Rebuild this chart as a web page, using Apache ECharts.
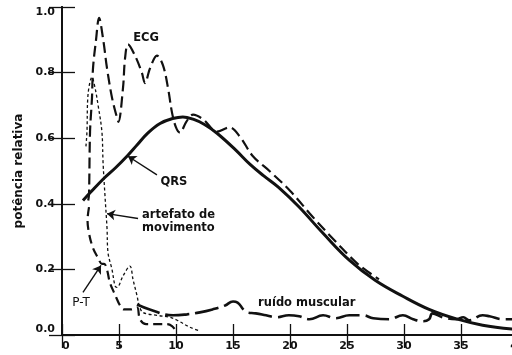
<!DOCTYPE html>
<html>
<head>
<meta charset="utf-8">
<script src="https://cdn.jsdelivr.net/npm/echarts@6/dist/echarts.min.js"></script>
<style>
  html, body { margin: 0; padding: 0; background: #fff; }
  #chart { width: 512px; height: 355px; }
</style>
</head>
<body>
<div id="chart"></div>
<script>
// Power spectra: frequency (Hz) against relative power
const qrsHz  = [1.84, 2.5, 3.6, 4.7, 5.7, 6.6, 7.5, 8.6, 9.7, 10.6, 11.5, 12.5, 13.6, 15.2, 16.5, 17.7, 19, 20.8, 22.9, 25.2, 27.5, 29.9, 32.2, 34.6, 36.9, 39.5];
const qrsPow = [0.41, 0.435, 0.475, 0.51, 0.545, 0.58, 0.615, 0.645, 0.66, 0.665, 0.658, 0.642, 0.615, 0.565, 0.52, 0.485, 0.45, 0.39, 0.31, 0.228, 0.166, 0.118, 0.078, 0.049, 0.03, 0.018];

const ecgHz  = [2.3, 2.37, 2.46, 2.63, 2.72, 2.98, 3.25, 3.6, 3.95, 4.39, 4.82, 4.95, 5.35, 5.53, 5.79, 6.4, 7.0, 7.28, 7.72, 8.33, 8.86, 9.3, 9.65, 10.0, 10.35, 10.9, 11.5, 12.4, 13.6, 14.7, 15.6, 16.75, 18.2, 20, 22, 24, 26, 27.8];
const ecgPow = [0.41, 0.43, 0.62, 0.723, 0.813, 0.898, 0.967, 0.904, 0.813, 0.723, 0.663, 0.65, 0.753, 0.843, 0.886, 0.852, 0.80, 0.768, 0.813, 0.852, 0.822, 0.753, 0.678, 0.633, 0.617, 0.65, 0.672, 0.657, 0.62, 0.633, 0.605, 0.545, 0.50, 0.44, 0.36, 0.285, 0.215, 0.17];

const ptHz  = [2.37, 2.24, 2.37, 2.72, 3.16, 3.5, 3.7, 3.95, 4.2, 4.65, 5.09, 5.44, 6.05, 6.58, 6.84, 7.37, 8.16, 9.2, 9.65, 10.0];
const ptPow = [0.39, 0.35, 0.31, 0.265, 0.235, 0.217, 0.217, 0.199, 0.16, 0.123, 0.09, 0.078, 0.078, 0.084, 0.048, 0.033, 0.033, 0.033, 0.027, 0.012];

const artHz  = [2.1, 2.19, 2.28, 2.63, 2.9, 3.16, 3.5, 3.6, 3.77, 3.95, 4.04, 4.39, 4.65, 4.82, 5.35, 5.96, 6.23, 6.58, 6.75, 7.1, 8.33, 9.47, 10.1, 11.2, 12.1];
const artPow = [0.575, 0.62, 0.732, 0.786, 0.753, 0.702, 0.62, 0.527, 0.425, 0.325, 0.25, 0.199, 0.15, 0.145, 0.18, 0.21, 0.169, 0.12, 0.093, 0.069, 0.06, 0.054, 0.045, 0.024, 0.012];

const emgHz  = [6.58, 7.7, 9.74, 10.96, 12.1, 13.2, 14.3, 15.0, 15.4, 15.9, 16.2, 17.0, 17.9, 18.8, 19.9, 20.8, 21.7, 22.9, 24.0, 25.2, 26.4, 27.3, 28.7, 29.9, 30.8, 31.7, 32.2, 32.5, 33.4, 34.6, 35.2, 35.7, 36.9, 37.5, 38.7, 39.5];
const emgPow = [0.093, 0.078, 0.06, 0.063, 0.069, 0.078, 0.09, 0.102, 0.099, 0.078, 0.069, 0.066, 0.06, 0.054, 0.06, 0.057, 0.048, 0.06, 0.051, 0.06, 0.06, 0.051, 0.048, 0.06, 0.048, 0.042, 0.048, 0.066, 0.054, 0.048, 0.054, 0.045, 0.06, 0.057, 0.048, 0.048];

const xTicks = { min: 0, max: 40, step: 5 };
const yTicks = { min: 0, max: 1, step: 0.2 };

const pairs = (xs, ys) => xs.map((x, i) => [x, ys[i]]);

const FONT = 'DejaVu Sans';
const INK = '#111';
const bold = { fontFamily: FONT, fontWeight: 'bold', fontSize: 11.5, color: INK };

// text annotation placed at a data coordinate
function note(text, coord, position, style) {
  return {
    coord, symbol: 'circle', symbolSize: 0,
    label: Object.assign({ show: true, formatter: text, position, distance: 0, lineHeight: 13 }, bold, style || {})
  };
}
// arrow from a label to its curve
function arrow(from, to) {
  return [{ coord: from }, { coord: to }];
}

const chart = echarts.init(document.getElementById('chart'), null, { renderer: 'canvas' });

const axisLine = { show: true, lineStyle: { color: INK, width: 2 } };

chart.setOption({
  animation: false,
  backgroundColor: '#fff',
  // the frame runs past the right edge of the canvas (40 Hz lies just outside)
  grid: { left: 62, top: 7, right: -6, bottom: 20, outerBoundsMode: 'none', containLabel: false },
  xAxis: [
    {
      type: 'value', position: 'bottom', min: xTicks.min, max: xTicks.max, interval: xTicks.step,
      axisLine, splitLine: { show: false },
      axisTick: { inside: true, length: 11, lineStyle: { color: INK, width: 1.3 } },
      axisLabel: { margin: 6, alignMinLabel: 'left', fontFamily: FONT, fontWeight: 'bold', fontSize: 11, color: INK }
    },
    {
      type: 'value', position: 'top', min: xTicks.min, max: xTicks.max, interval: xTicks.step,
      axisLine, splitLine: { show: false },
      axisTick: { inside: true, length: 13, lineStyle: { color: INK, width: 1.3 } },
      axisLabel: { show: false }
    }
  ],
  yAxis: [
    {
      type: 'value', position: 'left', min: yTicks.min, max: yTicks.max, interval: yTicks.step,
      name: 'potência relativa', nameLocation: 'middle', nameGap: 37,
      nameTextStyle: { fontFamily: FONT, fontWeight: 'bold', fontSize: 12, color: INK },
      axisLine, splitLine: { show: false },
      axisTick: { inside: true, length: 13, lineStyle: { color: INK, width: 1.3 } },
      axisLabel: {
        margin: 7, formatter: v => v.toFixed(1),
        verticalAlignMinLabel: 'bottom', verticalAlignMaxLabel: 'top',
        fontFamily: FONT, fontWeight: 'bold', fontSize: 11, color: INK
      }
    },
    {
      type: 'value', position: 'right', min: yTicks.min, max: yTicks.max, interval: yTicks.step,
      axisLine, splitLine: { show: false },
      axisTick: { inside: true, length: 13, lineStyle: { color: INK, width: 1.3 } },
      axisLabel: { show: false }
    }
  ],
  series: [
    {
      name: 'QRS', type: 'line', data: pairs(qrsHz, qrsPow), smooth: 0.4,
      showSymbol: false, lineStyle: { color: INK, width: 3, type: 'solid' },
      markLine: {
        silent: true, symbol: ['none', 'arrow'], symbolSize: 8,
        label: { show: false },
        lineStyle: { color: INK, width: 1.4, type: 'solid' },
        data: [
          arrow([8.33, 0.488], [5.79, 0.545]),
          arrow([6.67, 0.355], [3.95, 0.37]),
          arrow([1.84, 0.13], [3.42, 0.212])
        ]
      },
      markPoint: {
        silent: true,
        data: [
          note('ECG', [7.37, 0.905], 'inside'),
          note('QRS', [9.82, 0.467], 'inside'),
          note('artefato de\nmovimento', [7.02, 0.345], 'right'),
          note('P-T', [1.67, 0.099], 'inside', { fontWeight: 'normal', fontSize: 12 }),
          note('ruído muscular', [17.2, 0.096], 'right')
        ]
      }
    },
    {
      name: 'ECG', type: 'line', data: pairs(ecgHz, ecgPow), smooth: 0.35,
      showSymbol: false, lineStyle: { color: INK, width: 2.2, type: [11, 5] }
    },
    {
      name: 'P-T', type: 'line', data: pairs(ptHz, ptPow), smooth: 0.35,
      showSymbol: false, lineStyle: { color: INK, width: 2.2, type: [9, 5] }
    },
    {
      name: 'artefato de movimento', type: 'line', data: pairs(artHz, artPow), smooth: 0.35,
      showSymbol: false, lineStyle: { color: INK, width: 1.3, type: [3, 2.5] }
    },
    {
      name: 'ruído muscular', type: 'line', data: pairs(emgHz, emgPow), smooth: 0.45,
      showSymbol: false, lineStyle: { color: INK, width: 2.6, type: [24, 6] }
    }
  ]
});
</script>
</body>
</html>
